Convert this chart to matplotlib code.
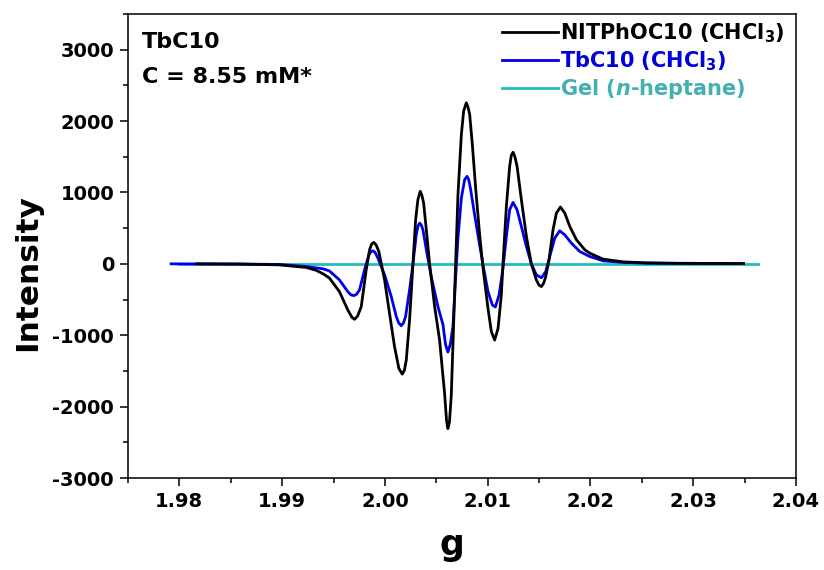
import matplotlib
matplotlib.use("Agg")
import matplotlib.pyplot as plt
from matplotlib.ticker import MultipleLocator

plt.rcParams['font.family'] = ['DejaVu Sans']
plt.rcParams['font.weight'] = 'bold'
plt.rcParams['axes.unicode_minus'] = False
plt.rcParams['mathtext.fontset'] = 'custom'
plt.rcParams['mathtext.rm'] = 'DejaVu Sans:bold'
plt.rcParams['mathtext.it'] = 'DejaVu Sans:italic:bold'
plt.rcParams['mathtext.bf'] = 'DejaVu Sans:bold'

# NITPhOC10 (CHCl3) - black
g_nit = [1.9817, 1.9858, 1.9897, 1.99234, 1.9933, 1.9940, 1.99461, 1.99558, 1.99639, 1.99680,
         1.99705, 1.99735, 1.99770, 1.99818, 1.99851, 1.99872, 1.99893, 1.99915, 1.99941, 1.99997,
         2.00045, 2.00094, 2.00136, 2.00169, 2.00190, 2.00208, 2.00240, 2.00273, 2.00299, 2.00321,
         2.00344, 2.00360, 2.00377, 2.00403, 2.00435, 2.00484, 2.00532, 2.00581, 2.00600, 2.00613,
         2.00628, 2.00646, 2.00678, 2.00711, 2.00744, 2.00766, 2.00792, 2.00808, 2.00825, 2.00851,
         2.00883, 2.00922, 2.00955, 2.01003, 2.01036, 2.01068, 2.01101, 2.01133, 2.01149, 2.01182,
         2.01214, 2.01230, 2.01247, 2.01265, 2.01286, 2.01328, 2.01377, 2.01425, 2.01474, 2.01500,
         2.01523, 2.01545, 2.01565, 2.01597, 2.01636, 2.01669, 2.01708, 2.01750, 2.01799, 2.01864,
         2.01945, 2.01993, 2.02123, 2.02318, 2.02546, 2.0287, 2.0349]
i_nit = [0, -3, -14, -50, -90, -140, -200, -390, -646, -750,
         -777, -730, -599, -84, 197, 280, 300, 265, 173, -225,
         -693, -1161, -1465, -1545, -1490, -1348, -787, 0, 618, 899,
         1016, 960, 852, 478, 0, -599, -1067, -1816, -2200, -2308,
         -2220, -1840, -435, 969, 1812, 2139, 2257, 2200, 2093, 1671,
         1063, 407, -61, -623, -950, -1067, -904, -435, 0, 805,
         1367, 1520, 1564, 1500, 1367, 899, 384, 0, -225, -300,
         -318, -270, -178, 56, 478, 712, 796, 712, 524, 337,
         197, 150, 66, 28, 14, 8, 4]

# TbC10 (CHCl3) - blue
g_tb = [1.9792, 1.9858, 1.9897, 1.99234, 1.9940, 1.99461, 1.99558, 1.99639, 1.99670, 1.99700,
        1.99725, 1.99753, 1.99802, 1.99844, 1.99863, 1.99883, 1.99905, 1.99932, 1.99997, 2.00062,
        2.00111, 2.00135, 2.00159, 2.00180, 2.00201, 2.00240, 2.00273, 2.00305, 2.00322, 2.00338,
        2.00354, 2.00370, 2.00409, 2.00451, 2.00516, 2.00565, 2.00590, 2.00613, 2.00636, 2.00662,
        2.00688, 2.00711, 2.00744, 2.00776, 2.00799, 2.00815, 2.00832, 2.00873, 2.00916, 2.00955,
        2.01003, 2.01046, 2.01075, 2.01111, 2.01149, 2.01182, 2.01214, 2.01247, 2.01286, 2.01328,
        2.01377, 2.01425, 2.01474, 2.01523, 2.01565, 2.01604, 2.01653, 2.01701, 2.01750, 2.01815,
        2.01896, 2.01993, 2.02123, 2.02318, 2.02546, 2.0287, 2.0349]
i_tb = [0, -2, -8, -37, -70, -100, -225, -389, -435, -445,
        -425, -365, -84, 126, 170, 183, 160, 80, -155, -459,
        -740, -830, -866, -830, -740, -365, 0, 407, 530, 571,
        545, 478, 150, -178, -599, -850, -1130, -1235, -1130, -880,
        -201, 361, 923, 1180, 1226, 1180, 1063, 688, 313, -14,
        -389, -576, -605, -435, -61, 384, 758, 861, 758, 524,
        243, 0, -155, -195, -108, 103, 361, 463, 407, 290,
        173, 103, 42, 20, 10, 6, 3]

# Gel (n-heptane) - cyan
g_gel = [1.9800, 2.0363]
i_gel = [0, 0]

labels = [r'NITPhOC10 (CHCl$_\mathbf{3}$)', r'TbC10 (CHCl$_\mathbf{3}$)', r'Gel ($\mathit{n}$-heptane)']
colors = ['#000000', '#0000EE', '#20BDBD']
text_colors = ['#000000', '#0000DD', '#45B0B0']

fig = plt.figure(figsize=(8.24, 5.70), dpi=100)
ax = fig.add_axes([0.1553, 0.1614, 0.8107, 0.8140])

ax.plot(g_gel, i_gel, color=colors[2], lw=2.0, label=labels[2], zorder=2)
ax.plot(g_tb, i_tb, color=colors[1], lw=2.0, label=labels[1], zorder=3)
ax.plot(g_nit, i_nit, color=colors[0], lw=2.0, label=labels[0], zorder=4)

ax.set_xlim(1.975, 2.04)
ax.set_ylim(-3000, 3500)
ax.xaxis.set_minor_locator(MultipleLocator(0.005))
ax.yaxis.set_minor_locator(MultipleLocator(500))
ax.set_xticks([1.98, 1.99, 2.00, 2.01, 2.02, 2.03, 2.04])
ax.set_xticklabels(['1.98', '1.99', '2.00', '2.01', '2.02', '2.03', '2.04'])
ax.set_yticks([-3000, -2000, -1000, 0, 1000, 2000, 3000])
ax.set_yticklabels(['-3000', '-2000', '-1000', '0', '1000', '2000', '3000'])
ax.tick_params(which='major', direction='out', length=6, width=1.1, labelsize=14, pad=4)
ax.tick_params(which='minor', direction='out', length=3.5, width=1.1)
for lab in ax.get_xticklabels() + ax.get_yticklabels():
    lab.set_fontweight('bold')
for s in ax.spines.values():
    s.set_linewidth(1.1)

ax.set_xlabel('g', fontsize=25, fontweight='bold')
ax.set_ylabel('Intensity', fontsize=22.5, fontweight='bold')
ax.xaxis.set_label_coords(0.485, -0.107)
ax.yaxis.set_label_coords(-0.129, 0.442)

ax.text(0.021, 0.926, 'TbC10', transform=ax.transAxes, fontsize=16, fontweight='bold',
        va='baseline', ha='left')
ax.text(0.021, 0.851, 'C = 8.55 mM*', transform=ax.transAxes, fontsize=16, fontweight='bold',
        va='baseline', ha='left')

handles, labs = ax.get_legend_handles_labels()
order = [2, 1, 0]
leg = fig.legend([handles[i] for i in order], [labs[i] for i in order],
                 loc='upper left', bbox_to_anchor=(502 / 824, 1 - 21 / 570), frameon=False,
                 fontsize=15, handlelength=2.7, handletextpad=0.08,
                 labelspacing=0.22, borderaxespad=0.0, borderpad=0.0,
                 labelcolor=text_colors)

fig.savefig('out.png', dpi=100)
